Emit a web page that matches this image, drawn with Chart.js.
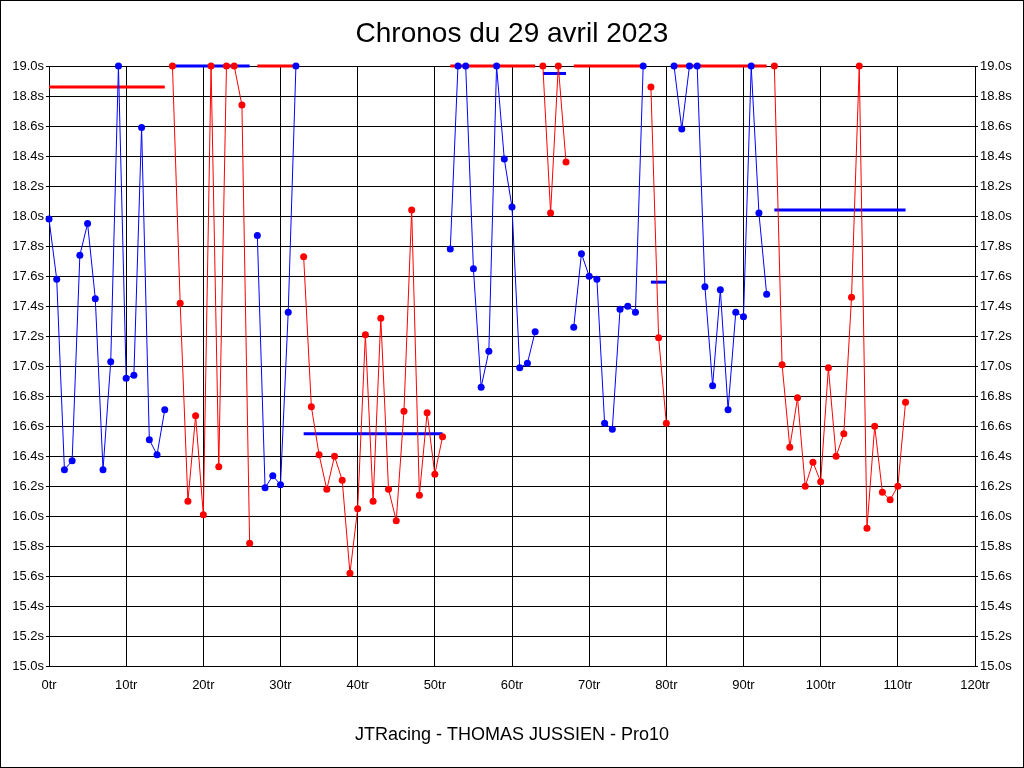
<!DOCTYPE html>
<html>
<head>
<meta charset="utf-8">
<script src="https://cdn.jsdelivr.net/npm/chart.js@4/dist/chart.umd.min.js"></script>
<style>
  body { margin: 0; background: #fff; }
  canvas { display: block; }
</style>
</head>
<body>
<canvas id="chart" width="1024" height="768"></canvas>
<script>
// lap times (s) per stint, values at the top edge were read as 19.0
const stint1 = [17.98, 17.58, 16.31, 16.37, 17.74, 17.95, 17.45, 16.31, 17.03, 19.0, 16.92, 16.94, 18.59, 16.51, 16.41, 16.71];
const stint2 = [19.0, 17.42, 16.10, 16.67, 16.01, 19.0, 16.33, 19.0, 19.0, 18.74, 15.82];
const stint3 = [17.87, 16.19, 16.27, 16.21, 17.36, 19.0];
const stint4 = [17.73, 16.73, 16.41, 16.18, 16.40, 16.24, 15.62, 16.05, 17.21, 16.10, 17.32, 16.18, 15.97, 16.70, 18.04, 16.14, 16.69, 16.28, 16.53];
const stint5 = [17.78, 19.0, 19.0, 17.65, 16.86, 17.10, 19.0, 18.38, 18.06, 16.99, 17.02, 17.23];
const stint6 = [19.0, 18.02, 19.0, 18.36];
const stint7 = [17.26, 17.75, 17.60, 17.58, 16.62, 16.58, 17.38, 17.40, 17.36, 19.0];
const stint8 = [18.86, 17.19, 16.62];
const stint9 = [19.0, 18.58, 19.0, 19.0, 17.53, 16.87, 17.51, 16.71, 17.36, 17.33, 19.0, 18.02, 17.48];
const stint10 = [19.0, 17.01, 16.46, 16.79, 16.20, 16.36, 16.23, 16.99, 16.40, 16.55, 17.46, 19.0, 15.92, 16.60, 16.16, 16.11, 16.20, 16.76];

const stints = [stint1, stint2, stint3, stint4, stint5, stint6, stint7, stint8, stint9, stint10];
const stintStart = [0, 16, 27, 33, 52, 64, 68, 78, 81, 94];
const stintAvg = [18.86, 19.0, 19.0, 16.55, 19.0, 18.95, 19.0, 17.56, 19.0, 18.04];

const xTicks = [0, 10, 20, 30, 40, 50, 60, 70, 80, 90, 100, 110, 120];

const BLUE = "#0000ff";
const RED = "#ff0000";

const datasets = [];
stints.forEach((laps, i) => {
  const color = i % 2 === 0 ? BLUE : RED;
  const avgColor = i % 2 === 0 ? RED : BLUE;
  const start = stintStart[i];
  const end = start + laps.length - 1;
  // average line, drawn in the other colour
  datasets.push({
    data: [{ x: start, y: stintAvg[i] }, { x: end, y: stintAvg[i] }],
    borderColor: avgColor,
    borderWidth: 3,
    pointRadius: 0,
    clip: false,
    order: 2,
  });
  datasets.push({
    data: laps.map((v, j) => ({ x: start + j, y: v })),
    borderColor: color,
    backgroundColor: color,
    borderWidth: 1,
    pointRadius: 3.5,
    pointBorderWidth: 0,
    clip: false,
    order: 1,
  });
});

const frame = {
  id: "frame",
  afterDraw(chart) {
    const c = chart.ctx;
    c.save();
    c.strokeStyle = "#000";
    c.lineWidth = 1;
    c.strokeRect(0.5, 0.5, chart.width - 1, chart.height - 1);
    c.restore();
  },
};

const tickFont = { family: "Liberation Sans, Arial, sans-serif", size: 13 };

new Chart(document.getElementById("chart").getContext("2d"), {
  type: "line",
  data: { datasets },
  plugins: [frame],
  options: {
    responsive: false,
    animation: false,
    layout: { padding: 0 },
    elements: { line: { tension: 0 } },
    plugins: {
      legend: { display: false },
      tooltip: { enabled: false },
      title: {
        display: true,
        text: "Chronos du 29 avril 2023",
        color: "#000",
        font: { family: "Liberation Sans, Arial, sans-serif", size: 28, weight: "normal" },
        padding: { top: 17, bottom: 15.4 },
      },
      subtitle: {
        display: true,
        position: "bottom",
        text: "JTRacing - THOMAS JUSSIEN - Pro10",
        color: "#000",
        font: { family: "Liberation Sans, Arial, sans-serif", size: 18, weight: "normal" },
        padding: { top: 14, bottom: 22 },
      },
    },
    scales: {
      x: {
        type: "linear",
        min: 0,
        max: 120,
        afterBuildTicks: (scale) => {
          scale.ticks = xTicks.map((v) => ({ value: v }));
        },
        afterFit: (scale) => {
          scale.height = 44;
        },
        ticks: {
          color: "#000",
          font: tickFont,
          autoSkip: false,
          maxRotation: 0,
          padding: 11,
          callback: (v) => v + "tr",
        },
        grid: { color: "#000", lineWidth: 1, drawTicks: false },
        border: { color: "#000", width: 1 },
      },
      y: {
        type: "linear",
        position: "left",
        min: 15,
        max: 19,
        afterFit: (scale) => {
          scale.width = 49;
        },
        ticks: {
          color: "#000",
          font: tickFont,
          stepSize: 0.2,
          autoSkip: false,
          padding: 2,
          callback: (v) => v.toFixed(1) + "s",
        },
        grid: { color: "#000", lineWidth: 1, tickLength: 3 },
        border: { color: "#000", width: 1 },
      },
      y2: {
        type: "linear",
        position: "right",
        min: 15,
        max: 19,
        afterFit: (scale) => {
          scale.width = 49;
        },
        ticks: {
          color: "#000",
          font: tickFont,
          stepSize: 0.2,
          autoSkip: false,
          padding: 2,
          callback: (v) => v.toFixed(1) + "s",
        },
        grid: { drawOnChartArea: false, color: "#000", tickLength: 3 },
        border: { color: "#000", width: 1 },
      },
    },
  },
});
</script>
</body>
</html>
